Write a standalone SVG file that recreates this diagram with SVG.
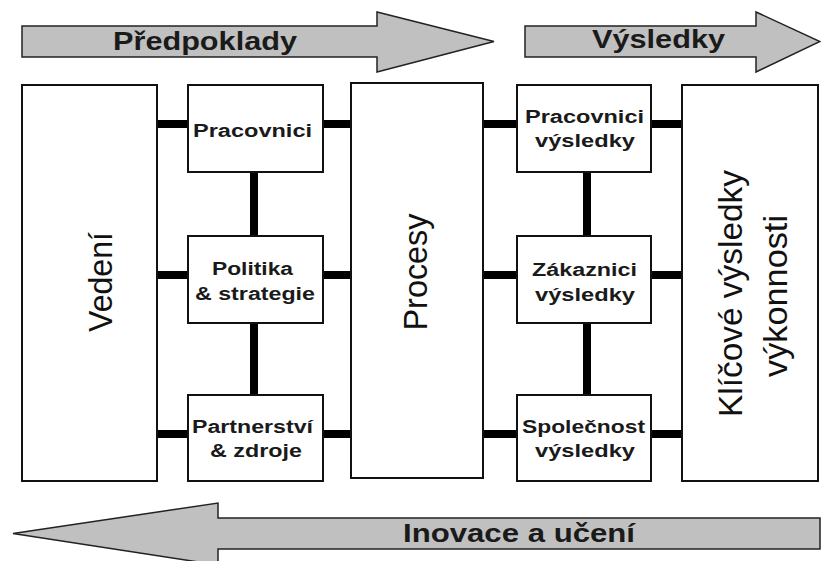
<svg xmlns="http://www.w3.org/2000/svg" width="821" height="561" viewBox="0 0 821 561">
<style>
.arrow{fill:#c0c0c0;stroke:#222;stroke-width:1.5;stroke-linejoin:miter}
.box{fill:#fff;stroke:#111;stroke-width:2}
.big{font-family:"Liberation Sans",Arial,sans-serif;font-weight:bold;font-size:26px;fill:#1a1a1a;text-anchor:middle}
.lbl{font-family:"Liberation Sans",Arial,sans-serif;font-weight:bold;font-size:18px;fill:#1a1a1a;text-anchor:middle}
.vt{font-family:"Liberation Sans",Arial,sans-serif;font-size:34px;fill:#111;text-anchor:middle}
.conn line{stroke:#000;stroke-width:8}
</style>
<rect width="821" height="561" fill="#fff"/>
<g id="arrow-predpoklady">
<polygon class="arrow" points="22,26 377,26 377,12 494,41.5 377,72 377,57 22,57"/>
<text class="big" x="205" y="50" textLength="184" lengthAdjust="spacingAndGlyphs">Předpoklady</text>
</g>
<g id="arrow-vysledky">
<polygon class="arrow" points="525,26 756,26 756,12 820,41.5 756,72 756,57 525,57"/>
<text class="big" x="658.5" y="48" textLength="133" lengthAdjust="spacingAndGlyphs">Výsledky</text>
</g>
<g id="arrow-inovace">
<polygon class="arrow" points="820,518 218,518 218,503 13,533.5 218,565 218,549 820,549"/>
<text class="big" x="519" y="542" textLength="232" lengthAdjust="spacingAndGlyphs">Inovace a učení</text>
</g>
<g class="conn" id="connectors">
<line x1="156" y1="124" x2="188" y2="124" stroke-linecap="round"/>
<line x1="156" y1="275" x2="188" y2="275" stroke-linecap="round"/>
<line x1="156" y1="434" x2="188" y2="434" stroke-linecap="round"/>
<line x1="323" y1="124" x2="351" y2="124"/>
<line x1="323" y1="275" x2="351" y2="275"/>
<line x1="323" y1="434" x2="351" y2="434"/>
<line x1="483" y1="124" x2="517" y2="124"/>
<line x1="483" y1="275" x2="517" y2="275"/>
<line x1="483" y1="434" x2="517" y2="434"/>
<line x1="651" y1="124" x2="682" y2="124"/>
<line x1="651" y1="275" x2="682" y2="275"/>
<line x1="651" y1="434" x2="682" y2="434"/>
<line x1="254" y1="172" x2="254" y2="236"/>
<line x1="254" y1="323" x2="254" y2="395"/>
<line x1="587" y1="172" x2="587" y2="236"/>
<line x1="587" y1="323" x2="587" y2="395"/>
</g>
<g id="vedeni">
<rect class="box" x="22" y="85" width="135" height="396"/>
<text class="vt" transform="translate(112,282) rotate(-90)" textLength="100" lengthAdjust="spacingAndGlyphs">Vedení</text>
</g>
<g id="pracovnici">
<rect class="box" x="188" y="85" width="135" height="87"/>
<text class="lbl" x="252.5" y="137" textLength="119" lengthAdjust="spacingAndGlyphs">Pracovnici</text>
</g>
<g id="politika">
<rect class="box" x="188" y="236" width="135" height="87"/>
<text class="lbl" x="252.5" y="275" textLength="81" lengthAdjust="spacingAndGlyphs">Politika</text>
<text class="lbl" x="255" y="300" textLength="120" lengthAdjust="spacingAndGlyphs">&amp; strategie</text>
</g>
<g id="partnerstvi">
<rect class="box" x="188" y="395" width="135" height="86"/>
<text class="lbl" x="252.5" y="433" textLength="121" lengthAdjust="spacingAndGlyphs">Partnerství</text>
<text class="lbl" x="256" y="457" textLength="92" lengthAdjust="spacingAndGlyphs">&amp; zdroje</text>
</g>
<g id="procesy">
<rect class="box" x="351" y="83" width="132" height="395"/>
<text class="vt" transform="translate(427,272) rotate(-90)" textLength="117" lengthAdjust="spacingAndGlyphs">Procesy</text>
</g>
<g id="pracovnici-vysledky">
<rect class="box" x="517" y="85" width="134" height="87"/>
<text class="lbl" x="584.5" y="123" textLength="119" lengthAdjust="spacingAndGlyphs">Pracovnici</text>
<text class="lbl" x="585" y="147" textLength="100" lengthAdjust="spacingAndGlyphs">výsledky</text>
</g>
<g id="zakaznici-vysledky">
<rect class="box" x="517" y="236" width="134" height="87"/>
<text class="lbl" x="584.5" y="276" textLength="105" lengthAdjust="spacingAndGlyphs">Zákaznici</text>
<text class="lbl" x="585" y="301" textLength="100" lengthAdjust="spacingAndGlyphs">výsledky</text>
</g>
<g id="spolecnost-vysledky">
<rect class="box" x="517" y="395" width="134" height="86"/>
<text class="lbl" x="583.5" y="433" textLength="123" lengthAdjust="spacingAndGlyphs">Společnost</text>
<text class="lbl" x="585" y="457" textLength="100" lengthAdjust="spacingAndGlyphs">výsledky</text>
</g>
<g id="klicove-vysledky">
<rect class="box" x="682" y="85" width="136" height="396"/>
<text class="vt" transform="translate(742,293.5) rotate(-90)" textLength="247" lengthAdjust="spacingAndGlyphs">Klíčové výsledky</text>
<text class="vt" transform="translate(787,296) rotate(-90)" textLength="162" lengthAdjust="spacingAndGlyphs">výkonnosti</text>
</g>
</svg>
